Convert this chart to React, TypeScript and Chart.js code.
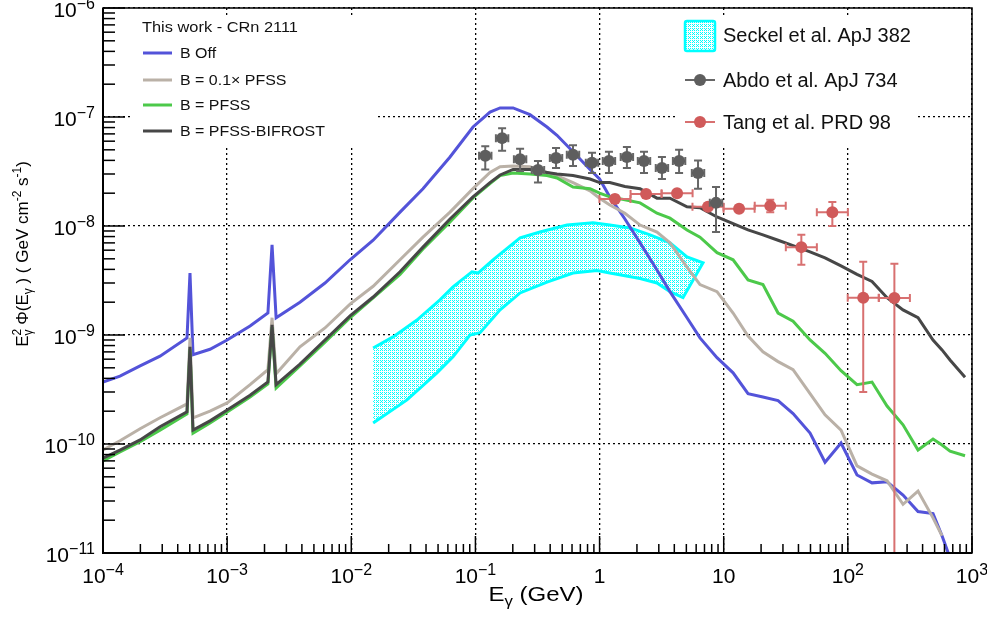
import React, { useEffect, useRef } from "react";
import { Chart, registerables } from "chart.js";

Chart.register(...registerables);

const FONT = '"Liberation Sans", Arial, Helvetica, sans-serif';

// ---------------- data ----------------
const modelEnergyGeV = [
  1.0e-4, 1.37e-4, 1.99e-4, 2.88e-4, 4.75e-4, 5.02e-4, 5.31e-4, 7.28e-4, 1.0e-3, 1.53e-3,
  2.13e-3, 2.3e-3, 2.48e-3, 3.86e-3, 6.14e-3, 9.77e-3, 1.5e-2, 2.47e-2, 3.78e-2, 6.24e-2,
  9.56e-2, 0.131, 0.158, 0.201, 0.275, 0.377, 0.454, 0.611, 0.838, 1.0,
  1.21, 1.6, 2.12, 2.9, 3.69, 5.06, 6.44, 8.83, 11.9, 15.7,
  20.7, 27.4, 36.2, 49.6, 65.5, 88.1, 118.5, 156.5, 206.8, 278.2,
  367.4, 485.3, 573.5, 665.3, 878.8,
];
const fluxBOff = [
  3.7e-10, 4.2e-10, 5.2e-10, 6.4e-10, 9.4e-10, 3.7e-9, 6.6e-10, 7.4e-10, 9.0e-10, 1.21e-9,
  1.59e-9, 6.7e-9, 1.44e-9, 2.0e-9, 3.0e-9, 4.9e-9, 7.4e-9, 1.34e-8, 2.2e-8, 4.3e-8,
  8.1e-8, 1.11e-7, 1.21e-7, 1.21e-7, 1.05e-7, 8.1e-8, 6.8e-8, 4.8e-8, 3.3e-8, 2.7e-8,
  1.85e-8, 1.16e-8, 7.0e-9, 3.95e-9, 2.5e-9, 1.44e-9, 9.4e-10, 6.2e-10, 4.5e-10, 2.9e-10,
  2.7e-10, 2.5e-10, 1.9e-10, 1.26e-10, 6.8e-11, 1.02e-10, 5.2e-11, 4.4e-11, 4.5e-11, 3.4e-11,
  2.4e-11, 2.3e-11, 1.44e-11, 9.0e-12, null,
];
const flux01PFSS = [
  8.8e-11, 1.07e-10, 1.38e-10, 1.74e-10, 2.33e-10, 9.4e-10, 1.74e-10, 2.0e-10, 2.38e-10, 3.5e-10,
  4.8e-10, 1.44e-9, 4.4e-10, 7.8e-10, 1.16e-9, 1.92e-9, 2.8e-9, 4.9e-9, 7.9e-9, 1.34e-8,
  2.2e-8, 3.1e-8, 3.5e-8, 3.55e-8, 3.5e-8, 3.1e-8, 2.9e-8, 2.5e-8, 2.1e-8, 1.8e-8,
  1.56e-8, 1.31e-8, 1.02e-8, 8.8e-9, 7.0e-9, 4.2e-9, 2.9e-9, 2.5e-9, 1.59e-9, 9.8e-10,
  7.0e-10, 5.7e-10, 4.8e-10, 2.9e-10, 1.85e-10, 1.34e-10, 6.3e-11, 5.3e-11, 4.6e-11, 2.8e-11,
  3.7e-11, 2.1e-11, 1.44e-11, null, null,
];
const fluxPFSS = [
  7.0e-11, 8.45e-11, 1.05e-10, 1.34e-10, 1.89e-10, 7.4e-10, 1.26e-10, 1.56e-10, 1.97e-10, 2.7e-10,
  3.55e-10, 1.18e-9, 3.26e-10, 5.2e-10, 8.6e-10, 1.44e-9, 2.19e-9, 3.6e-9, 6.15e-9, 1.09e-8,
  1.81e-8, 2.45e-8, 2.9e-8, 3.06e-8, 3.0e-8, 2.9e-8, 2.76e-8, 2.28e-8, 2.2e-8, 2.0e-8,
  1.85e-8, 1.74e-8, 1.63e-8, 1.31e-8, 1.18e-8, 9.2e-9, 7.9e-9, 5.7e-9, 4.9e-9, 3.2e-9,
  2.9e-9, 1.59e-9, 1.34e-9, 9.0e-10, 6.8e-10, 4.7e-10, 3.5e-10, 3.7e-10, 2.23e-10, 1.5e-10,
  8.8e-11, 1.11e-10, 9.8e-11, 8.6e-11, 7.8e-11,
];
const fluxBifrost = [
  7.4e-11, 8.8e-11, 1.09e-10, 1.44e-10, 1.97e-10, 7.8e-10, 1.34e-10, 1.63e-10, 2.05e-10, 2.8e-10,
  3.7e-10, 1.24e-9, 3.5e-10, 5.4e-10, 9.0e-10, 1.5e-9, 2.23e-9, 3.8e-9, 6.4e-9, 1.16e-8,
  1.85e-8, 2.5e-8, 2.94e-8, 3.3e-8, 3.3e-8, 3.1e-8, 3.0e-8, 2.9e-8, 2.7e-8, 2.5e-8,
  2.5e-8, 2.3e-8, 2.2e-8, 1.8e-8, 1.8e-8, 1.5e-8, 1.47e-8, 1.21e-8, 1.05e-8, 9.2e-9,
  8.3e-9, 7.4e-9, 6.6e-9, 5.8e-9, 5.1e-9, 4.3e-9, 3.6e-9, 3.1e-9, 2.2e-9, 1.7e-9,
  1.44e-9, 9.0e-10, 7.3e-10, 5.9e-10, 4.1e-10,
];

const seckelUpperE = [0.015, 0.0217, 0.0338, 0.0518, 0.066, 0.0938, 0.105, 0.1385, 0.229, 0.331, 0.547, 0.885, 1.21, 1.76, 2.55, 3.69, 5.06, 6.81];
const seckelUpperFlux = [7.6e-10, 9.6e-10, 1.37e-9, 2.1e-9, 2.76e-9, 3.8e-9, 3.7e-9, 4.9e-9, 7.8e-9, 8.8e-9, 1.02e-8, 1.07e-8, 1.02e-8, 9.6e-9, 8.3e-9, 7.0e-9, 5.2e-9, 4.6e-9];
const seckelLowerE = [0.015, 0.0281, 0.049, 0.066, 0.0904, 0.109, 0.158, 0.229, 0.377, 0.611, 0.954, 1.21, 2.12, 2.9, 3.69, 4.7];
const seckelLowerFlux = [1.56e-10, 2.54e-10, 4.5e-10, 6.3e-10, 1.0e-9, 1.05e-9, 1.7e-9, 2.43e-9, 3.06e-9, 3.7e-9, 3.9e-9, 3.7e-9, 3.3e-9, 3.0e-9, 2.5e-9, 2.2e-9];

const abdoE = [0.12, 0.164, 0.229, 0.319, 0.446, 0.611, 0.869, 1.19, 1.66, 2.28, 3.18, 4.37, 6.21, 8.67];
const abdoFlux = [4.4e-8, 6.4e-8, 4.1e-8, 3.26e-8, 4.2e-8, 4.5e-8, 3.8e-8, 3.95e-8, 4.3e-8, 3.95e-8, 3.4e-8, 3.95e-8, 3.06e-8, 1.63e-8];
const abdoFluxHigh = [5.4e-8, 7.9e-8, 5.1e-8, 3.95e-8, 5.2e-8, 5.5e-8, 4.7e-8, 4.8e-8, 5.3e-8, 4.8e-8, 4.3e-8, 5.0e-8, 4.0e-8, 2.28e-8];
const abdoFluxLow = [3.3e-8, 4.9e-8, 3.2e-8, 2.5e-8, 3.4e-8, 3.55e-8, 3.06e-8, 3.06e-8, 3.4e-8, 3.06e-8, 2.7e-8, 3.06e-8, 2.2e-8, 8.8e-9];
const abdoHalfBinDex = 0.05;

const tangE = [1.33, 2.37, 4.21, 7.47, 13.3, 23.7, 42.2, 75.0, 133, 237];
const tangFlux = [1.77e-8, 1.97e-8, 2.0e-8, 1.5e-8, 1.44e-8, 1.53e-8, 6.4e-9, 1.34e-8, 2.2e-9, 2.19e-9];
const tangFluxHigh = [1.9e-8, 2.1e-8, 2.13e-8, 1.6e-8, 1.53e-8, 1.74e-8, 8.3e-9, 1.66e-8, 4.7e-9, 4.5e-9];
const tangFluxLow = [1.65e-8, 1.85e-8, 1.88e-8, 1.4e-8, 1.35e-8, 1.34e-8, 4.4e-9, 1.0e-8, 3.0e-10, 1e-12];
const tangHalfBinDex = 0.125;

const xTickValues = [1e-4, 1e-3, 1e-2, 1e-1, 1, 10, 100, 1000];
const xTickBase = ["10", "10", "10", "10", "1", "10", "10", "10"];
const xTickExp = ["\u22124", "\u22123", "\u22122", "\u22121", "", "", "2", "3"];
const yTickValues = [1e-11, 1e-10, 1e-9, 1e-8, 1e-7, 1e-6];
const yTickExp = ["\u221211", "\u221210", "\u22129", "\u22128", "\u22127", "\u22126"];

const leftLegendTitle = "This work - CRn 2111";
const modelLabels = ["B Off", "B = 0.1\u00d7 PFSS", "B = PFSS", "B = PFSS-BIFROST"];
const refLabels = ["Seckel et al. ApJ 382", "Abdo et al. ApJ 734", "Tang et al. PRD 98"];

// ---------------- styles ----------------
const C_BLUE = "#5353d9";
const C_TAN = "#bab1a7";
const C_GREEN = "#4cc94a";
const C_DARK = "#474747";
const C_CYAN = "#00ffff";
const C_ABDO = "#5e5e5e";
const C_ABDO_BAR = "#666666";
const C_TANG = "#d05a5a";
const C_TANG_BAR = "#d87070";
const modelColors = [C_BLUE, C_TAN, C_GREEN, C_DARK];

type Seg = { t: string; s: number; dy?: number; noAdv?: boolean };

function richWidth(ctx: any, segs: Seg[]) {
  let w = 0;
  for (const g of segs) {
    ctx.font = `${g.s}px ${FONT}`;
    if (!g.noAdv) w += ctx.measureText(g.t).width;
  }
  return w;
}

function drawRich(ctx: any, segs: Seg[], x: number, y: number, align: string, sx = 1) {
  const w = richWidth(ctx, segs) * sx;
  const start = align === "left" ? x : align === "center" ? x - w / 2 : x - w;
  ctx.save();
  ctx.translate(start, y);
  ctx.scale(sx, 1);
  ctx.textAlign = "left";
  ctx.textBaseline = "alphabetic";
  let px = 0;
  for (const g of segs) {
    ctx.font = `${g.s}px ${FONT}`;
    ctx.fillText(g.t, px, g.dy || 0);
    if (!g.noAdv) px += ctx.measureText(g.t).width;
  }
  ctx.restore();
}

function toPts(xs: number[], ys: (number | null)[]) {
  const out: any[] = [];
  xs.forEach((x, i) => {
    if (ys[i] != null) out.push({ x, y: ys[i] });
  });
  return out;
}

function makePattern(ctx: any) {
  const c = document.createElement("canvas");
  c.width = 4;
  c.height = 4;
  const g = c.getContext("2d") as CanvasRenderingContext2D;
  g.fillStyle = "#ffffff";
  g.fillRect(0, 0, 4, 4);
  g.fillStyle = C_CYAN;
  for (let x = 0; x < 4; x++)
    for (let y = 0; y < 4; y++) if (x < 3 && y < 3 && (x + y) % 2 === 0) g.fillRect(x, y, 1, 1);
  return ctx.createPattern(c, "repeat");
}

const errorSpecs: Record<string, any> = {
  [refLabels[1]]: { e: abdoE, f: abdoFlux, hi: abdoFluxHigh, lo: abdoFluxLow, half: abdoHalfBinDex, color: C_ABDO_BAR },
  [refLabels[2]]: { e: tangE, f: tangFlux, hi: tangFluxHigh, lo: tangFluxLow, half: tangHalfBinDex, color: C_TANG_BAR },
};

function drawErrorBars(chart: any, spec: any) {
  const { ctx, chartArea: a } = chart;
  const xs = chart.scales.x;
  const ys = chart.scales.y;
  ctx.save();
  ctx.beginPath();
  ctx.rect(a.left, a.top, a.right - a.left, a.bottom - a.top);
  ctx.clip();
  ctx.strokeStyle = spec.color;
  ctx.lineWidth = 2;
  const cap = 4;
  const f = Math.pow(10, spec.half);
  spec.e.forEach((E: number, i: number) => {
    const px = xs.getPixelForValue(E);
    const py = ys.getPixelForValue(spec.f[i]);
    const xl = xs.getPixelForValue(E / f);
    const xr = xs.getPixelForValue(E * f);
    const yt = ys.getPixelForValue(spec.hi[i]);
    const yb = ys.getPixelForValue(spec.lo[i]);
    ctx.beginPath();
    ctx.moveTo(xl, py);
    ctx.lineTo(xr, py);
    ctx.moveTo(px, yt);
    ctx.lineTo(px, yb);
    ctx.moveTo(xl, py - cap);
    ctx.lineTo(xl, py + cap);
    ctx.moveTo(xr, py - cap);
    ctx.lineTo(xr, py + cap);
    ctx.moveTo(px - cap, yt);
    ctx.lineTo(px + cap, yt);
    ctx.moveTo(px - cap, yb);
    ctx.lineTo(px + cap, yb);
    ctx.stroke();
  });
  ctx.restore();
}

function line(ctx: any, x1: number, y1: number, x2: number, y2: number) {
  ctx.beginPath();
  ctx.moveTo(x1, y1);
  ctx.lineTo(x2, y2);
  ctx.stroke();
}

const overlayPlugin = {
  id: "overlay",
  beforeDatasetDraw(chart: any, args: any) {
    const ds = chart.data.datasets[args.index];
    const spec = errorSpecs[ds.label];
    if (spec) drawErrorBars(chart, spec);
  },
  afterDatasetsDraw(chart: any) {
    const { ctx, chartArea: a } = chart;
    const xs = chart.scales.x;
    const ys = chart.scales.y;
    const pattern = chart.$bandPattern;
    ctx.save();

    // legend backgrounds
    ctx.fillStyle = "#ffffff";
    ctx.fillRect(133, 15, 245, 131);
    ctx.fillRect(678, 15, 240, 131);

    // left legend
    ctx.fillStyle = "#111";
    drawRich(ctx, [{ t: leftLegendTitle, s: 14 }], 142, 32, "left", 1.17);
    const rowY = [53, 80, 105, 131];
    modelLabels.forEach((lab, i) => {
      ctx.strokeStyle = modelColors[i];
      ctx.lineWidth = 3;
      line(ctx, 143, rowY[i], 172, rowY[i]);
      ctx.fillStyle = "#111";
      drawRich(ctx, [{ t: lab, s: 14 }], 180, rowY[i] + 5, "left", 1.14);
    });

    // right legend
    ctx.beginPath();
    ctx.roundRect ? ctx.roundRect(685, 21, 30, 30, 2) : ctx.rect(685, 21, 30, 30);
    ctx.fillStyle = pattern || C_CYAN;
    ctx.fill();
    ctx.strokeStyle = C_CYAN;
    ctx.lineWidth = 2.5;
    ctx.stroke();
    ctx.fillStyle = "#111";
    drawRich(ctx, [{ t: refLabels[0], s: 20 }], 723, 42, "left");

    ctx.strokeStyle = C_ABDO_BAR;
    ctx.lineWidth = 2;
    line(ctx, 685, 80, 715, 80);
    ctx.fillStyle = C_ABDO;
    ctx.beginPath();
    ctx.arc(700, 80, 6, 0, Math.PI * 2);
    ctx.fill();
    ctx.fillStyle = "#111";
    drawRich(ctx, [{ t: refLabels[1], s: 20 }], 723, 87, "left");

    ctx.strokeStyle = C_TANG_BAR;
    line(ctx, 685, 122, 715, 122);
    ctx.fillStyle = C_TANG;
    ctx.beginPath();
    ctx.arc(700, 122, 6, 0, Math.PI * 2);
    ctx.fill();
    ctx.fillStyle = "#111";
    drawRich(ctx, [{ t: refLabels[2], s: 20 }], 723, 129, "left");

    // frame
    ctx.strokeStyle = "#000";
    ctx.lineWidth = 1.5;
    ctx.strokeRect(a.left, a.top, a.right - a.left, a.bottom - a.top);
    ctx.lineWidth = 2;
    line(ctx, a.left, a.top, a.left, a.bottom + 1);
    line(ctx, a.left - 1, a.bottom, a.right, a.bottom);

    // ticks
    ctx.lineWidth = 1.5;
    for (let e = -4; e < 3; e++)
      for (let k = 2; k <= 9; k++) {
        const px = xs.getPixelForValue(k * Math.pow(10, e));
        line(ctx, px, a.bottom, px, a.bottom - 9);
      }
    xTickValues.forEach((v) => {
      const px = xs.getPixelForValue(v);
      line(ctx, px, a.bottom, px, a.bottom - 17);
    });
    for (let e = -11; e < -6; e++)
      for (let k = 2; k <= 9; k++) {
        const py = ys.getPixelForValue(k * Math.pow(10, e));
        line(ctx, a.left, py, a.left + 12, py);
      }
    yTickValues.forEach((v) => {
      const py = ys.getPixelForValue(v);
      line(ctx, a.left, py, a.left + 22, py);
    });

    // tick labels
    ctx.fillStyle = "#000";
    xTickValues.forEach((v, i) => {
      const px = xs.getPixelForValue(v);
      if (!xTickExp[i]) {
        drawRich(ctx, [{ t: xTickBase[i], s: 21 }], px, 583, "center");
      } else {
        drawRich(ctx, [{ t: xTickBase[i], s: 21 }, { t: xTickExp[i], s: 16, dy: -8 }], px, 583, "center");
      }
    });
    yTickValues.forEach((v, i) => {
      const py = ys.getPixelForValue(v);
      drawRich(ctx, [{ t: "10", s: 21 }, { t: yTickExp[i], s: 16, dy: -8 }], 95, py + 9, "right");
    });

    // axis titles
    drawRich(
      ctx,
      [{ t: "E", s: 20 }, { t: "\u03b3", s: 14, dy: 5 }, { t: " (GeV)", s: 20 }],
      536,
      601,
      "center",
      1.2
    );
    ctx.save();
    ctx.translate(28, 254);
    ctx.rotate(-Math.PI / 2);
    drawRich(
      ctx,
      [
        { t: "E", s: 17 },
        { t: "2", s: 12, dy: -7, noAdv: true },
        { t: "\u03b3", s: 12, dy: 4 },
        { t: " \u03a6(E", s: 17 },
        { t: "\u03b3", s: 12, dy: 4 },
        { t: " ) ( GeV cm", s: 17 },
        { t: "-2", s: 12, dy: -7 },
        { t: " s", s: 17 },
        { t: "-1", s: 12, dy: -7 },
        { t: ")", s: 17 },
      ],
      0,
      0,
      "center"
    );
    ctx.restore();
    ctx.restore();
  },
};

export default function App() {
  const ref = useRef<HTMLCanvasElement | null>(null);

  useEffect(() => {
    const canvas = ref.current;
    if (!canvas) return;
    const ctx = canvas.getContext("2d") as CanvasRenderingContext2D;
    const pattern = makePattern(ctx);

    const bandPts = toPts(seckelUpperE, seckelUpperFlux).concat(
      toPts(seckelLowerE, seckelLowerFlux).reverse()
    );

    const modelDataset = (label: string, flux: (number | null)[], color: string, order: number) => ({
      label,
      data: toPts(modelEnergyGeV, flux),
      showLine: true,
      borderColor: color,
      backgroundColor: color,
      borderWidth: 3,
      pointRadius: 0,
      tension: 0,
      fill: false,
      order,
    });

    const chart: any = new Chart(ctx, {
      type: "scatter",
      data: {
        datasets: [
          modelDataset(modelLabels[3], fluxBifrost, C_DARK, 1),
          modelDataset(modelLabels[2], fluxPFSS, C_GREEN, 2),
          modelDataset(modelLabels[1], flux01PFSS, C_TAN, 3),
          modelDataset(modelLabels[0], fluxBOff, C_BLUE, 4),
          {
            label: refLabels[0],
            data: bandPts,
            showLine: true,
            borderColor: C_CYAN,
            backgroundColor: pattern,
            borderWidth: 3,
            pointRadius: 0,
            fill: "shape",
            order: 5,
          },
          {
            label: refLabels[1],
            data: toPts(abdoE, abdoFlux),
            showLine: false,
            pointRadius: 6,
            pointBackgroundColor: C_ABDO,
            pointBorderColor: C_ABDO,
            pointBorderWidth: 0,
            order: 0,
          },
          {
            label: refLabels[2],
            data: toPts(tangE, tangFlux),
            showLine: false,
            pointRadius: 6,
            pointBackgroundColor: C_TANG,
            pointBorderColor: C_TANG,
            pointBorderWidth: 0,
            order: 0,
          },
        ] as any,
      },
      options: {
        animation: false,
        responsive: false,
        events: [],
        layout: { padding: { top: 8, right: 15, left: 0, bottom: 0 } },
        plugins: { legend: { display: false }, tooltip: { enabled: false } },
        scales: {
          x: {
            type: "logarithmic",
            position: "bottom",
            min: 1e-4,
            max: 1e3,
            afterBuildTicks: (s: any) => {
              s.ticks = xTickValues.map((v) => ({ value: v, major: true }));
            },
            afterFit: (s: any) => {
              s.height = 64;
            },
            ticks: { display: false },
            grid: { color: "#000", lineWidth: 1.3, drawTicks: false },
            border: { display: false, dash: [2, 3] },
          },
          y: {
            type: "logarithmic",
            min: 1e-11,
            max: 1e-6,
            afterBuildTicks: (s: any) => {
              s.ticks = yTickValues.map((v) => ({ value: v, major: true }));
            },
            afterFit: (s: any) => {
              s.width = 103;
            },
            ticks: { display: false },
            grid: { color: "#000", lineWidth: 1.3, drawTicks: false },
            border: { display: false, dash: [2, 3] },
          },
        },
      } as any,
      plugins: [overlayPlugin as any],
    });
    chart.$bandPattern = pattern;
    chart.draw();

    return () => chart.destroy();
  }, []);

  return (
    <div style={{ position: "fixed", left: 0, top: 0, width: 987, height: 617, background: "#fff" }}>
      <canvas ref={ref} width={987} height={617} style={{ display: "block" }} />
    </div>
  );
}
